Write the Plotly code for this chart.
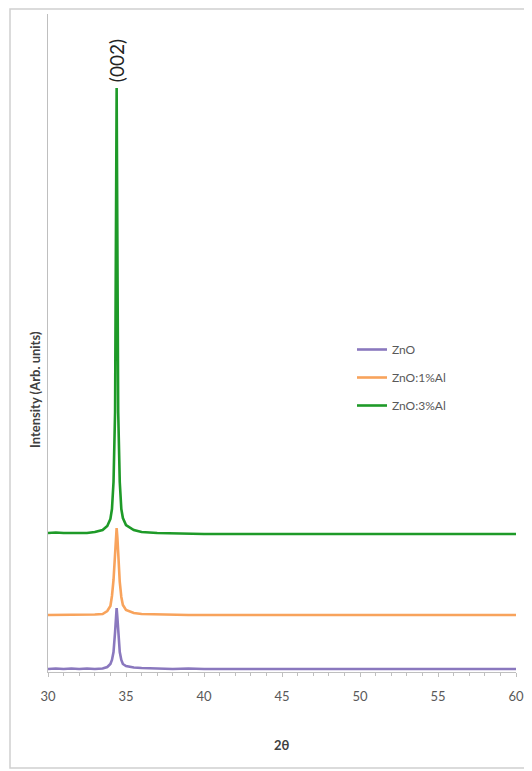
import plotly.graph_objects as go

# 2-theta sampling (degrees)
two_theta = [30.0, 30.5, 31.0, 31.5, 32.0, 32.5, 33.0, 33.5, 33.8, 34.0, 34.1, 34.2, 34.3, 34.35,
             34.4, 34.45, 34.5, 34.6, 34.7, 34.8, 35.0, 35.5, 36.0, 37.0, 38.0, 39.0, 40.0, 42.0,
             44.0, 46.0, 48.0, 50.0, 52.0, 54.0, 56.0, 58.0, 60.0]

# Intensities (arbitrary units, stacked offsets as in the figure)
zno = [3, 3.5, 3, 3.5, 3, 3.5, 3, 3.5, 5, 8, 12, 20, 40, 54,
       64, 54, 40, 20, 12, 8, 6, 4.5, 4, 3.5, 3, 3.5, 3, 3,
       3, 3, 3.5, 3, 3, 3, 3.5, 3, 3]
zno_1al = [57, 57, 57.5, 57, 57.5, 57, 57.5, 58, 61, 66, 76, 92, 120, 134,
           144, 134, 118, 90, 75, 67, 62, 59, 58, 57.5, 57, 57, 57, 57,
           57, 57, 57, 57, 57, 57, 57, 57, 57]
zno_3al = [139, 139.5, 139, 139, 139.5, 139, 140, 142, 146, 153, 163, 190, 260, 420,
           584, 420, 260, 190, 163, 154, 147, 142, 140, 139, 138.5, 138, 138, 138,
           138, 138, 138, 138, 138, 138, 138, 138, 138]

series_names = ["ZnO", "ZnO:1%Al", "ZnO:3%Al"]
series_values = [zno, zno_1al, zno_3al]
series_colors = ["#8A78BE", "#F8A35C", "#1E9A28"]

x_ticks = [30, 35, 40, 45, 50, 55, 60]
peak_label = "(002)"
peak_pos = 34.4

# plot area geometry (pixels) used only for layout placement
PW, PH = 468, 658

fig = go.Figure()
for i, (name, vals, col) in enumerate(zip(series_names, series_values, series_colors)):
    fig.add_trace(go.Scatter(x=two_theta, y=vals, mode="lines", name=name,
                             legendgroup=f"g{i}",
                             line=dict(color=col, width=2.6)))

fig.add_annotation(x=peak_pos, y=max(zno_3al), yref="y", xref="x", text=peak_label,
                   textangle=-90, showarrow=False, yanchor="bottom", yshift=4,
                   font=dict(size=19, color="#222222", family="Lato"))

fig.add_annotation(xref="paper", yref="paper", x=(35 - 48) / PW, y=(672 - 390) / PH,
                   xanchor="center", yanchor="middle",
                   text="<b>Intensity (Arb. units)</b>", textangle=-90, showarrow=False,
                   font=dict(size=13, color="#404040", family="Lato"))
fig.add_annotation(xref="x", yref="paper", x=45, y=(672 - 745) / PH,
                   xanchor="center", yanchor="middle",
                   text="<b>2θ</b>", showarrow=False,
                   font=dict(size=13, color="#404040", family="Lato"))

# outer chart border
fig.add_shape(type="rect", xref="paper", yref="paper",
              x0=(10 - 48) / PW, x1=(531 - 48) / PW,
              y0=(672 - 768) / PH, y1=(672 - 9) / PH,
              line=dict(color="#D0D0D0", width=1.5), layer="below")

fig.update_layout(
    width=524, height=763,
    margin=dict(l=40, r=16, t=6, b=99),
    paper_bgcolor="white", plot_bgcolor="white",
    font=dict(family="Lato", color="#595959"),
    legend=dict(x=(352 - 48) / PW, y=(672 - 335) / PH, xanchor="left", yanchor="top",
                traceorder="grouped", tracegroupgap=9, itemwidth=30,
                font=dict(size=12, color="#595959", family="Lato"),
                bgcolor="rgba(0,0,0,0)"),
    xaxis=dict(range=[30, 60], tickvals=x_ticks, ticktext=[str(t) for t in x_ticks],
               showgrid=False, zeroline=False, showline=True, linecolor="#BFBFBF", linewidth=1,
               ticks="outside", ticklen=4, tickcolor="#BFBFBF", ticklabelstandoff=8,
               tickfont=dict(size=13, color="#595959"),
               minor=dict(dtick=1, ticks="outside", ticklen=3, tickcolor="#BFBFBF")),
    yaxis=dict(range=[0, 658], showticklabels=False, showgrid=False, zeroline=False,
               showline=True, linecolor="#BFBFBF", linewidth=1, ticks=""),
)

fig.write_html("out.html")
